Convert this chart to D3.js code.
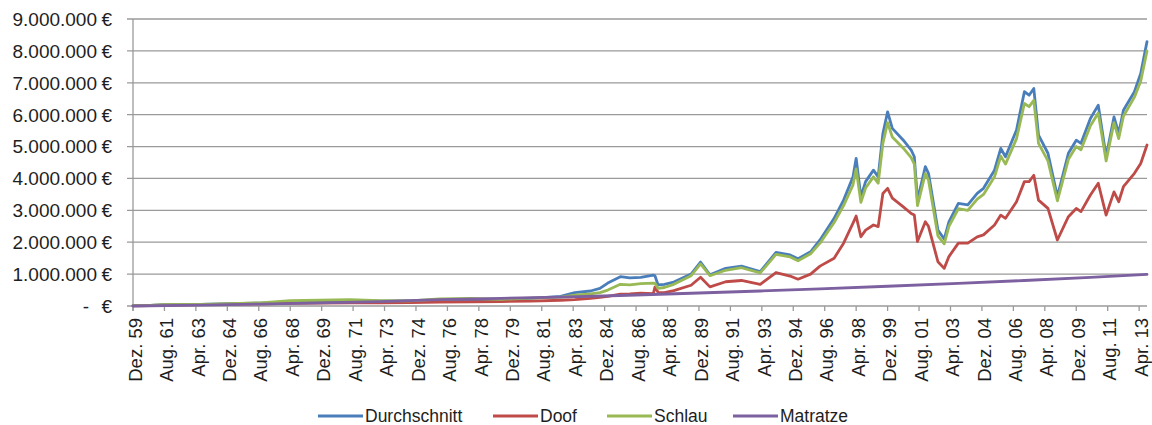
<!DOCTYPE html>
<html>
<head>
<meta charset="utf-8">
<script src="https://cdn.jsdelivr.net/npm/d3@7"></script>
<style>
  html, body { margin: 0; padding: 0; background: #ffffff; }
  svg { display: block; }
  text { font-family: "Liberation Sans", Arial, sans-serif; fill: #1e1e1e; }
</style>
</head>
<body>
<svg id="chart" width="1152" height="425"></svg>
<script>
// ---------------- DATA ----------------
// x-axis tick labels (one every 20 months, starting Dez. 1959)
const tickLabels = ["Dez. 59","Aug. 61","Apr. 63","Dez. 64","Aug. 66","Apr. 68","Dez. 69","Aug. 71","Apr. 73","Dez. 74",
  "Aug. 76","Apr. 78","Dez. 79","Aug. 81","Apr. 83","Dez. 84","Aug. 86","Apr. 88","Dez. 89","Aug. 91","Apr. 93","Dez. 94",
  "Aug. 96","Apr. 98","Dez. 99","Aug. 01","Apr. 03","Dez. 04","Aug. 06","Apr. 08","Dez. 09","Aug. 11","Apr. 13"];
const monthsPerTick = 20;
const lastMonth = 645; // months after Dez. 59 of the last data point

// y-axis tick values (€)
const yTickValues = [0,1000000,2000000,3000000,4000000,5000000,6000000,7000000,8000000,9000000];

// month index (months since Dez. 59) of read-off points for the market series
const sampleMonths = [0,11,20,43,62,81,100,119,138,157,176,195,215,234,253,272,281,291,297,302,
  310,316,323,331,332,334,338,344,355,361,367,377,387,399,409,418,423,431,437,446,
  452,458,460,463,466,471,474,477,480,483,490,495,497,499,504,506,512,516,519,525,
  531,537,541,548,552,555,562,567,570,573,576,582,588,595,600,603,609,614,619,624,
  627,630,637,641,645];

const durchschnitt = [10000,20000,40000,50000,70000,90000,120000,130000,160000,150000,
  160000,190000,210000,200000,240000,300000,420000,470000,550000,720000,
  920000,880000,900000,970000,950000,660000,680000,750000,1000000,1380000,
  980000,1180000,1250000,1080000,1680000,1600000,1480000,1700000,2070000,2750000,
  3320000,4050000,4630000,3430000,3900000,4260000,4050000,5410000,6090000,5570000,
  5200000,4890000,4680000,3320000,4370000,4160000,2380000,2100000,2640000,3220000,
  3170000,3530000,3690000,4260000,4940000,4680000,5520000,6720000,6610000,6820000,
  5360000,4790000,3430000,4790000,5200000,5100000,5880000,6300000,4680000,5930000,
  5410000,6140000,6720000,7290000,8290000];

const doof = [5000,15000,30000,40000,60000,70000,80000,90000,100000,100000,
  110000,120000,130000,140000,150000,180000,200000,240000,270000,300000,
  370000,380000,400000,390000,590000,430000,420000,480000,650000,900000,
  600000,760000,800000,680000,1050000,940000,840000,1000000,1250000,1500000,
  1970000,2600000,2820000,2170000,2380000,2540000,2490000,3530000,3690000,3380000,
  3110000,2900000,2850000,2020000,2640000,2500000,1390000,1180000,1550000,1970000,
  1970000,2170000,2230000,2540000,2850000,2750000,3270000,3900000,3900000,4100000,
  3320000,3060000,2070000,2800000,3060000,2960000,3480000,3850000,2850000,3580000,
  3270000,3740000,4160000,4470000,5050000];

const schlau = [10000,20000,40000,50000,70000,100000,170000,180000,200000,170000,
  160000,220000,240000,210000,250000,280000,340000,380000,420000,500000,
  680000,660000,700000,720000,710000,550000,580000,680000,950000,1320000,
  950000,1120000,1200000,1040000,1620000,1540000,1420000,1640000,1970000,2620000,
  3150000,3800000,4300000,3250000,3700000,4050000,3850000,5100000,5750000,5300000,
  4950000,4650000,4450000,3150000,4150000,3950000,2200000,1950000,2500000,3050000,
  3000000,3350000,3500000,4050000,4700000,4450000,5250000,6350000,6250000,6450000,
  5100000,4550000,3300000,4600000,5000000,4900000,5650000,6050000,4550000,5750000,
  5250000,5950000,6550000,7050000,8000000];

const matratzeMonths = [0,43,81,119,157,195,234,272,310,355,399,437,480,525,567,609,645];
const matratze = [0,30000,60000,100000,140000,200000,240000,280000,330000,400000,470000,540000,620000,710000,800000,900000,990000];

const seriesNames = ["Durchschnitt","Doof","Schlau","Matratze"];
const seriesColors = ["#4a7ebb","#be4b48","#98b954","#7d60a0"];

// ---------------- LAYOUT ----------------
const svg = d3.select("#chart");
const plot = { left: 133, right: 1147, top: 19, bottom: 306 };

svg.append("rect").attr("width",1152).attr("height",425).attr("fill","#ffffff");

const x = d3.scaleLinear().domain([0, lastMonth]).range([plot.left, plot.right]);
const y = d3.scaleLinear().domain([0, 9000000]).range([plot.bottom, plot.top]);

const gridColor = "#9a9a9a";

// horizontal gridlines (extend left as tick marks)
svg.append("g").selectAll("line").data(yTickValues).join("line")
  .attr("x1", plot.left - 6).attr("x2", plot.right)
  .attr("y1", d => y(d)).attr("y2", d => y(d))
  .attr("stroke", gridColor).attr("stroke-width", 1.3);

// vertical axis line
svg.append("line")
  .attr("x1", plot.left).attr("x2", plot.left)
  .attr("y1", plot.top).attr("y2", plot.bottom + 5)
  .attr("stroke", gridColor).attr("stroke-width", 1.3);

// y labels (German number format, accounting style)
const de = d3.formatLocale({ decimal: ",", thousands: ".", grouping: [3], currency: ["", " €"] });
const fmt = de.format(",.0f");
const yLab = svg.append("g").style("font-size", "19px");
yTickValues.forEach(v => {
  yLab.append("text").attr("x", 112).attr("y", y(v)).attr("dy", "0.36em")
    .attr("text-anchor", "end").text("€");
  yLab.append("text").attr("x", v === 0 ? 89 : 97).attr("y", y(v)).attr("dy", "0.36em")
    .attr("text-anchor", "end").text(v === 0 ? "-" : fmt(v));
});

// x ticks and labels
const tickMonths = tickLabels.map((_, i) => i * monthsPerTick);
svg.append("g").selectAll("line").data(tickMonths).join("line")
  .attr("x1", d => x(d)).attr("x2", d => x(d))
  .attr("y1", plot.bottom).attr("y2", plot.bottom + 5)
  .attr("stroke", gridColor).attr("stroke-width", 1.3);

svg.append("g").style("font-size", "18.5px").selectAll("text").data(tickLabels).join("text")
  .attr("transform", (d, i) => `translate(${x(tickMonths[i]) + 2},318) rotate(-90)`)
  .attr("text-anchor", "end").attr("dy", "0.36em")
  .text(d => d);

// series lines
const line = d3.line().x(d => x(d[0])).y(d => y(d[1]));
const seriesData = [
  sampleMonths.map((m, i) => [m, durchschnitt[i]]),
  sampleMonths.map((m, i) => [m, doof[i]]),
  sampleMonths.map((m, i) => [m, schlau[i]]),
  matratzeMonths.map((m, i) => [m, matratze[i]])
];
svg.append("g").selectAll("path").data(seriesData).join("path")
  .attr("d", d => line(d))
  .attr("fill", "none")
  .attr("stroke", (d, i) => seriesColors[i])
  .attr("stroke-width", 2.8)
  .attr("stroke-linejoin", "round")
  .attr("stroke-linecap", "round");

// legend
const legendLineX = [318, 493, 607, 733];
const legendY = 416;
const lg = svg.append("g").style("font-size", "17.5px");
seriesNames.forEach((name, i) => {
  lg.append("line")
    .attr("x1", legendLineX[i]).attr("x2", legendLineX[i] + 45)
    .attr("y1", legendY).attr("y2", legendY)
    .attr("stroke", seriesColors[i]).attr("stroke-width", 2.8);
  lg.append("text").attr("x", legendLineX[i] + 47).attr("y", legendY).attr("dy", "0.36em")
    .text(name);
});
</script>
</body>
</html>
